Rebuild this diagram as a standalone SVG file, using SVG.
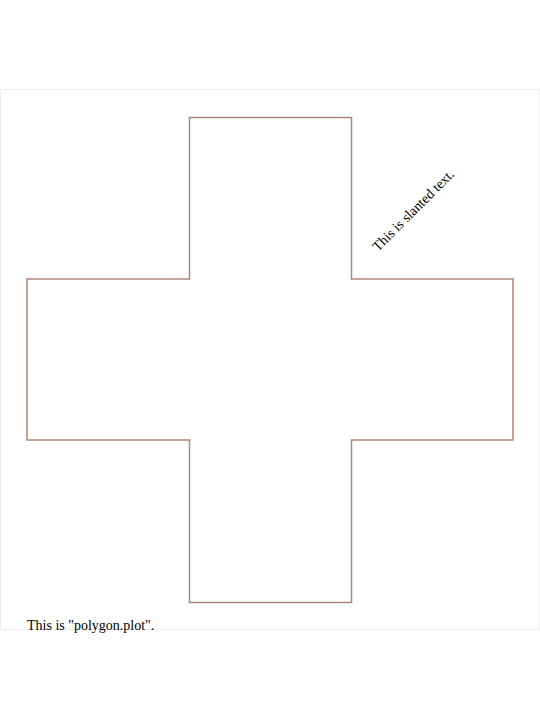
<svg xmlns="http://www.w3.org/2000/svg" width="540" height="720" viewBox="0 0 540 720">
<style>
.frame{fill:none;stroke:#ececec;stroke-width:1}
.poly{fill:none;stroke:#b08878;stroke-width:1.5}
.t{font-family:'Liberation Serif','Times New Roman',Times,serif;font-size:14px;fill:#000}
</style>
<rect x="0" y="0" width="540" height="720" fill="#fff"/>
<rect class="frame" x="0.5" y="89.5" width="538.5" height="540"/>
<g id="cross">
<polygon class="poly" points="189.5,117.5 351.5,117.5 351.5,279 513,279 513,440 351.5,440 351.5,602.5 189.5,602.5 189.5,440 27,440 27,279 189.5,279"/>
</g>
<g id="slanted">
<text class="t" font-family="Liberation Serif, serif" transform="translate(378,252) rotate(-45)">This is slanted text.</text>
</g>
<g id="caption">
<text class="t" font-family="Liberation Serif, serif" x="27" y="630">This is "polygon.plot".</text>
</g>
</svg>
